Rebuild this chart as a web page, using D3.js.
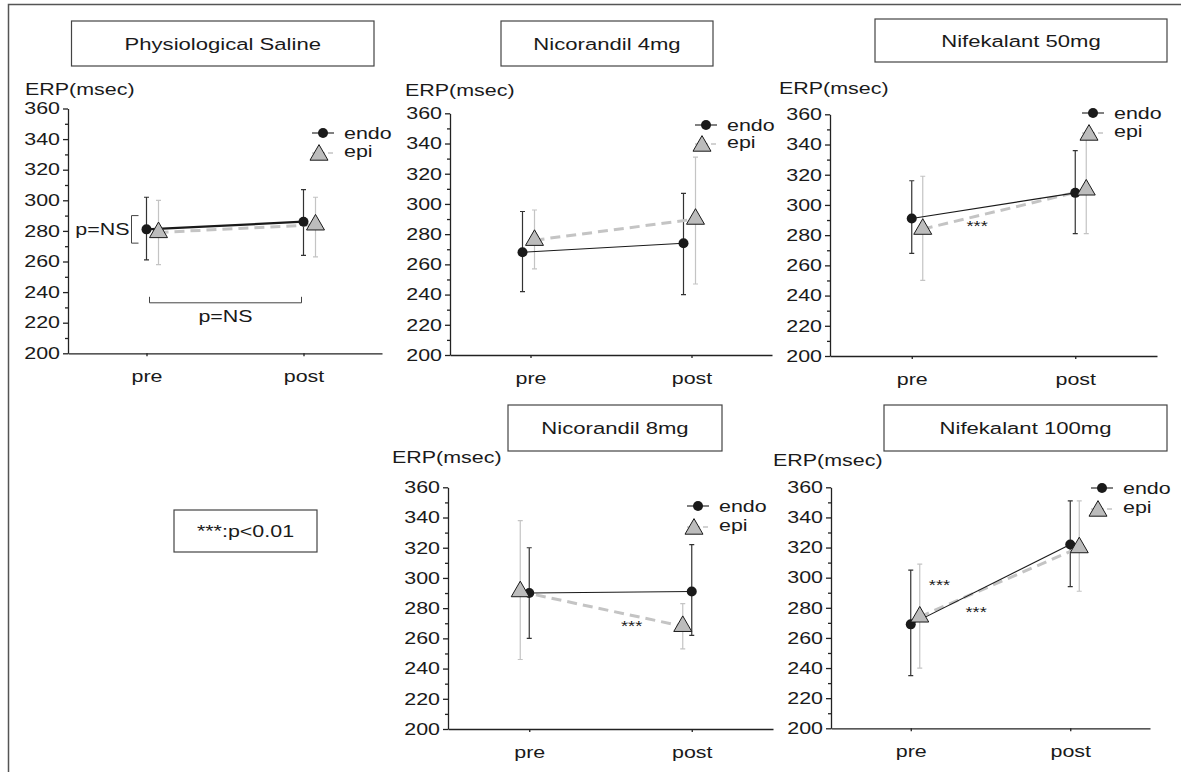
<!DOCTYPE html>
<html>
<head>
<meta charset="utf-8">
<script src="https://cdnjs.cloudflare.com/ajax/libs/d3/7.8.5/d3.min.js"></script>
<style>
  body { margin: 0; background: #fff; }
  svg { display: block; font-family: 'Liberation Sans', Arial, Helvetica, sans-serif; }
</style>
</head>
<body>
<svg id="chart" width="1181" height="772"></svg>
<script>
var panelTitles = ['Physiological Saline', 'Nicorandil 4mg', 'Nifekalant 50mg', 'Nicorandil 8mg', 'Nifekalant 100mg'];
var phases = ['pre', 'post'];
var seriesNames = ['endo', 'epi'];
var yTicks = [200, 220, 240, 260, 280, 300, 320, 340, 360];
var yMinorTicks = [210, 230, 250, 270, 290, 310, 330, 350];

// ERP (msec) per panel, [pre, post]
var endoMean = [[281, 286], [268, 274], [291, 308], [290, 291], [269, 322]];
var endoLow  = [[261, 264], [242, 240], [268, 281], [260, 262], [235, 294]];
var endoHigh = [[302, 307], [295, 307], [316, 336], [320, 322], [305, 351]];
var epiMean  = [[279, 284], [276, 290], [284, 310], [291, 268], [274, 320]];
var epiLow   = [[258, 263], [257, 247], [250, 281], [246, 253], [240, 291]];
var epiHigh  = [[300, 302], [296, 331], [319, 347], [338, 283], [309, 351]];

// *** marks: panel index, fraction of the way pre -> post, ERP value
var sigPanel = [2, 3, 4, 4];
var sigT = [0.40, 0.63, 0.18, 0.41];
var sigV = [288, 270, 297, 279];
var sigNote = '***:p<0.01';
var nsLabel = 'p=NS';
var yLabel = 'ERP(msec)';

// where each panel sits on the page
var layout = [
  { x0: 68, x1: 382, yTop: 108.5, yBot: 353.3, box: [71.5, 21, 302.5, 45], lab: [25, 95], leg: [323, 133], legGap: 18, endoDx: 0, epiDx: 12, lineW: 2.2 },
  { x0: 450, x1: 772, yTop: 113.3, yBot: 355, box: [501, 21, 212, 45], lab: [405, 96], leg: [706, 125], legGap: 17, endoDx: -8, epiDx: 4, lineW: 1.1 },
  { x0: 830, x1: 1157, yTop: 114.3, yBot: 356, box: [875, 19, 292, 43], lab: [779, 94], leg: [1093, 113], legGap: 18, endoDx: 0, epiDx: 11, lineW: 1.1 },
  { x0: 448, x1: 773, yTop: 487.3, yBot: 729, box: [508, 405, 214, 46], lab: [392, 463], leg: [698, 506], legGap: 19, endoDx: 0, epiDx: -9, lineW: 1.1 },
  { x0: 831, x1: 1150, yTop: 487.3, yBot: 728.3, box: [884, 405, 283, 46], lab: [773, 466], leg: [1102, 488], legGap: 19, endoDx: 0, epiDx: 9, lineW: 1.1 }
];

var sx = 1.3;          // the lettering in the figure is wide
var fs = 16.5;
var ink = '#1a1a1a';
var epiGrey = '#c4c4c4';
var triangle = d3.symbol().type(d3.symbolTriangle).size(140);

var svg = d3.select('#chart');

function addText(g, x, y, str, size, anchor) {
  return g.append('text')
    .attr('transform', 'translate(' + x + ',' + y + ') scale(' + sx + ',1)')
    .attr('text-anchor', anchor || 'start')
    .attr('fill', ink)
    .style('font-size', size + 'px')
    .text(str);
}

function addBox(g, b) {
  g.append('rect')
    .attr('x', b[0]).attr('y', b[1])
    .attr('width', b[2]).attr('height', b[3])
    .attr('fill', '#fff')
    .attr('stroke', '#444')
    .attr('stroke-width', 1.2);
}

// frame around the figure (left and top only)
svg.append('path')
  .attr('d', 'M8.5,772V4.5H1181')
  .attr('fill', 'none')
  .attr('stroke', '#555')
  .attr('stroke-width', 1.5);

// note box
var note = svg.append('g');
addBox(note, [174, 510, 143, 42]);
addText(note, 245.5, 537, sigNote, fs, 'middle');

layout.forEach(function(L, i) {
  var g = svg.append('g');

  var x = d3.scalePoint().domain(phases).range([L.x0, L.x1]).padding(0.5);
  var y = d3.scaleLinear().domain([200, 360]).range([L.yBot, L.yTop]);

  // title
  addBox(g, L.box);
  addText(g, L.box[0] + L.box[2] / 2, L.box[1] + L.box[3] / 2 + 6, panelTitles[i], 17, 'middle');

  addText(g, L.lab[0], L.lab[1], yLabel, fs, 'start');

  // axes
  var yAxis = g.append('g')
    .attr('transform', 'translate(' + L.x0 + ',0)')
    .call(d3.axisLeft(y).tickValues(yTicks).tickSize(5).tickPadding(3).tickSizeOuter(0));
  g.append('g')
    .attr('transform', 'translate(' + L.x0 + ',0)')
    .call(d3.axisLeft(y).tickValues(yMinorTicks).tickSize(3).tickFormat(''))
    .call(function(a) { a.select('.domain').remove(); });
  var xAxis = g.append('g')
    .attr('transform', 'translate(0,' + L.yBot + ')')
    .call(d3.axisBottom(x).tickSize(3).tickPadding(14).tickSizeOuter(0));

  g.selectAll('.domain, .tick line')
    .attr('stroke', '#222')
    .attr('stroke-width', 1.3);
  g.selectAll('.tick text')
    .attr('fill', ink)
    .attr('transform', 'scale(' + sx + ',1)')
    .style('font-size', fs + 'px');
  yAxis.selectAll('.tick text').attr('x', -8 / sx);
  yAxis.attr('font-family', null).attr('font-size', null);
  xAxis.attr('font-family', null).attr('font-size', null);

  var series = [
    { name: 'epi', mean: epiMean[i], low: epiLow[i], high: epiHigh[i], dx: L.epiDx, color: epiGrey },
    { name: 'endo', mean: endoMean[i], low: endoLow[i], high: endoHigh[i], dx: L.endoDx, color: '#333' }
  ];

  function px(s, k) { return x(phases[k]) + s.dx; }

  // error bars
  series.forEach(function(s) {
    phases.forEach(function(p, k) {
      var cx = px(s, k);
      g.append('path')
        .attr('d', 'M' + cx + ',' + y(s.low[k]) + 'V' + y(s.high[k]) +
          'M' + (cx - 2.5) + ',' + y(s.low[k]) + 'H' + (cx + 2.5) +
          'M' + (cx - 2.5) + ',' + y(s.high[k]) + 'H' + (cx + 2.5))
        .attr('fill', 'none')
        .attr('stroke', s.color)
        .attr('stroke-width', 1.2);
    });
  });

  // connecting lines
  var line = d3.line()
    .x(function(d) { return d[0]; })
    .y(function(d) { return y(d[1]); });

  g.append('path')
    .attr('d', line(phases.map(function(p, k) { return [px(series[0], k), series[0].mean[k]]; })))
    .attr('fill', 'none')
    .attr('stroke', epiGrey)
    .attr('stroke-width', 3)
    .attr('stroke-dasharray', '10,6');

  g.append('path')
    .attr('d', line(phases.map(function(p, k) { return [px(series[1], k), series[1].mean[k]]; })))
    .attr('fill', 'none')
    .attr('stroke', ink)
    .attr('stroke-width', L.lineW);

  // markers
  phases.forEach(function(p, k) {
    g.append('circle')
      .attr('cx', px(series[1], k))
      .attr('cy', y(series[1].mean[k]))
      .attr('r', 5)
      .attr('fill', ink);
  });
  phases.forEach(function(p, k) {
    g.append('path')
      .attr('d', triangle())
      .attr('transform', 'translate(' + px(series[0], k) + ',' + y(series[0].mean[k]) + ')')
      .attr('fill', '#bcbcbc')
      .attr('stroke', ink)
      .attr('stroke-width', 1);
  });

  // legend
  var lx = L.leg[0], ly = L.leg[1];
  g.append('line')
    .attr('x1', lx - 11).attr('x2', lx + 11)
    .attr('y1', ly).attr('y2', ly)
    .attr('stroke', ink).attr('stroke-width', 1.1);
  g.append('circle').attr('cx', lx).attr('cy', ly).attr('r', 5).attr('fill', ink);
  addText(g, lx + 21, ly + 6, seriesNames[0], fs, 'start');

  g.append('line')
    .attr('x1', lx - 11).attr('x2', lx + 11)
    .attr('y1', ly + L.legGap + 2).attr('y2', ly + L.legGap + 2)
    .attr('stroke', epiGrey).attr('stroke-width', 1.5)
    .attr('stroke-dasharray', '5,3');
  g.append('path')
    .attr('d', triangle())
    .attr('transform', 'translate(' + (lx - 4) + ',' + (ly + L.legGap + 4) + ')')
    .attr('fill', '#bcbcbc')
    .attr('stroke', ink)
    .attr('stroke-width', 1);
  addText(g, lx + 21, ly + L.legGap + 6, seriesNames[1], fs, 'start');

  // significance marks
  sigPanel.forEach(function(pi, j) {
    if (pi !== i) return;
    var ax = x(phases[0]) + sigT[j] * (x(phases[1]) - x(phases[0]));
    addText(g, ax, y(sigV[j]) + 8, '***', 14, 'middle');
  });

  // saline panel: p=NS brackets
  if (i === 0) {
    var bx = x(phases[0]) - 15;
    g.append('path')
      .attr('d', 'M' + (bx + 7) + ',' + y(290) + 'H' + bx + 'V' + y(272) + 'H' + (bx + 7))
      .attr('fill', 'none').attr('stroke', '#444').attr('stroke-width', 1);
    addText(g, bx - 2, (y(290) + y(272)) / 2 + 6, nsLabel, fs, 'end');

    var by = y(233);
    var xa = x(phases[0]) + 3, xb = x(phases[1]) - 2;
    g.append('path')
      .attr('d', 'M' + xa + ',' + (by - 6) + 'V' + by + 'H' + xb + 'V' + (by - 6))
      .attr('fill', 'none').attr('stroke', '#444').attr('stroke-width', 1);
    addText(g, (xa + xb) / 2, by + 19, nsLabel, fs, 'middle');
  }
});
</script>
</body>
</html>
